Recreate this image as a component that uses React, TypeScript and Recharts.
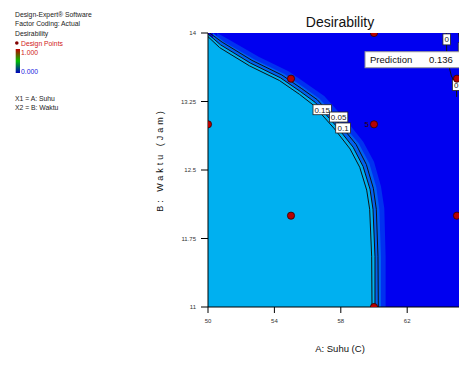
import React from 'react';
import { ComposedChart, XAxis, YAxis, Area, Line, Scatter, CartesianGrid } from 'recharts';

const FONT = "'Liberation Sans Narrow', 'Liberation Sans', Arial, sans-serif";

const xTicks = [50, 54, 58, 62];
const yTicks = [11, 11.75, 12.5, 13.25, 14];

// Contour lines
const contour010 = [
  { x: 50.0, y: 13.99 }, { x: 50.76, y: 13.87 }, { x: 52.56, y: 13.67 }, { x: 54.36, y: 13.51 },
  { x: 55.56, y: 13.36 }, { x: 56.46, y: 13.24 }, { x: 57.78, y: 12.97 }, { x: 58.74, y: 12.75 },
  { x: 59.34, y: 12.54 }, { x: 59.76, y: 12.29 }, { x: 59.94, y: 12.07 }, { x: 60.06, y: 11.55 },
  { x: 60.06, y: 11.0 },
];
const contour015 = [
  { x: 50.0, y: 13.96 }, { x: 50.7, y: 13.84 }, { x: 52.5, y: 13.64 }, { x: 54.3, y: 13.48 },
  { x: 55.5, y: 13.33 }, { x: 56.35, y: 13.21 }, { x: 57.62, y: 12.95 }, { x: 58.56, y: 12.73 },
  { x: 59.14, y: 12.53 }, { x: 59.56, y: 12.28 }, { x: 59.74, y: 12.07 }, { x: 59.86, y: 11.55 },
  { x: 59.88, y: 11.0 },
];
const contour005 = [
  { x: 50.1, y: 14.0 }, { x: 50.85, y: 13.9 }, { x: 52.65, y: 13.7 }, { x: 54.45, y: 13.54 },
  { x: 55.65, y: 13.39 }, { x: 56.58, y: 13.27 }, { x: 57.94, y: 13.0 }, { x: 58.92, y: 12.78 },
  { x: 59.54, y: 12.56 }, { x: 59.96, y: 12.3 }, { x: 60.14, y: 12.07 }, { x: 60.24, y: 11.55 },
  { x: 60.26, y: 11.0 },
];
// Shading bands (transition) beyond the contour
const bandInner = [
  { x: 50.3, y: 14.0 }, { x: 51.0, y: 13.9 }, { x: 52.8, y: 13.71 }, { x: 54.6, y: 13.55 },
  { x: 55.8, y: 13.4 }, { x: 56.72, y: 13.28 }, { x: 58.08, y: 13.01 }, { x: 59.08, y: 12.79 },
  { x: 59.72, y: 12.57 }, { x: 60.14, y: 12.31 }, { x: 60.32, y: 12.07 }, { x: 60.42, y: 11.55 },
  { x: 60.42, y: 11.0 },
];
const bandOuter = [
  { x: 50.55, y: 14.0 }, { x: 51.25, y: 13.93 }, { x: 53.05, y: 13.74 }, { x: 54.85, y: 13.58 },
  { x: 56.05, y: 13.43 }, { x: 57.0, y: 13.31 }, { x: 58.35, y: 13.04 }, { x: 59.35, y: 12.81 },
  { x: 60.0, y: 12.59 }, { x: 60.42, y: 12.32 }, { x: 60.62, y: 12.08 }, { x: 60.7, y: 11.55 },
  { x: 60.7, y: 11.0 },
];
const topRightLight = [
  { x: 65.3, r: [13.999, 14] }, { x: 65.6, r: [13.55, 14] }, { x: 70, r: [12.8, 14] },
];
const topRightLineA = [{ x: 65.1, y: 14 }, { x: 65.34, y: 13.6 }, { x: 65.58, y: 13.49 }];
const topRightLineB = [{ x: 65.28, y: 14 }, { x: 65.52, y: 13.62 }, { x: 65.76, y: 13.51 }];
const zeroLine = [
  { x: 64.36, y: 14 }, { x: 64.38, y: 13.79 }, { x: 64.54, y: 13.62 }, { x: 64.66, y: 13.53 },
  { x: 64.96, y: 13.43 }, { x: 64.98, y: 13.3 },
];

const designPoints = [
  { x: 50, y: 13, n: 1 }, { x: 55, y: 13.5, n: 1 }, { x: 55, y: 12, n: 1 },
  { x: 60, y: 14, n: 1 }, { x: 60, y: 13, n: 5 }, { x: 60, y: 11, n: 1 },
  { x: 65, y: 12, n: 1 }, { x: 65, y: 13.5, n: 1 }, { x: 70, y: 13, n: 1 },
];

const contourLabels = [
  { x: 56.88, y: 13.16, label: '0.15' },
  { x: 57.87, y: 13.08, label: '0.05' },
  { x: 58.14, y: 12.96, label: '0.1' },
  { x: 64.38, y: 13.93, label: '0' },
  { x: 64.95, y: 13.43, label: '0' },
  { x: 65.52, y: 13.84, label: '0.1' },
];

const prediction = [{ x: 59.46, y: 13.795, name: 'Prediction', value: '0.136' }];

const LIGHT = '#00B0F0';
const DARK = '#0000F0';

const PointShape = (props: any) => {
  const { cx, cy, payload } = props;
  if (cx == null || cy == null) return null;
  return (
    <g>
      <circle cx={cx} cy={cy} r={3.6} fill="#B80000" stroke="#300000" strokeWidth={0.8} />
      {payload.n > 1 && (
        <text x={cx - 5} y={cy + 3} textAnchor="end" fontSize={8} fontFamily={FONT} fill="#300000">
          {payload.n}
        </text>
      )}
    </g>
  );
};

const LabelShape = (props: any) => {
  const { cx, cy, payload } = props;
  if (cx == null || cy == null) return null;
  const w = payload.label.length * 3.6 + 4;
  const h = payload.label.length === 1 ? 11 : 10;
  return (
    <g>
      <rect x={cx - w / 2} y={cy - h / 2} width={w} height={h} fill="#fff" stroke="#222" strokeWidth={0.8} />
      <text x={cx} y={cy + 3} textAnchor="middle" fontSize={8} fontFamily={FONT} fill="#222">
        {payload.label}
      </text>
    </g>
  );
};

const PredictionShape = (props: any) => {
  const { cx, cy, payload } = props;
  if (cx == null || cy == null) return null;
  return (
    <g>
      <rect x={cx} y={cy} width={140} height={16} fill="#fff" stroke="#999" strokeWidth={1} />
      <text x={cx + 5} y={cy + 11.5} fontSize={9.5} fontFamily={FONT} fill="#111">{payload.name}</text>
      <text x={cx + 64} y={cy + 11.5} fontSize={9.5} fontFamily={FONT} fill="#111">{payload.value}</text>
    </g>
  );
};

export default function App() {
  const o = (v: number) => v - 8;
  return (
    <div style={{ position: 'relative', width: 459, height: 349, overflow: 'hidden', background: '#fff' }}>
      <ComposedChart width={600} height={349} margin={{ top: 25, right: 68, bottom: 20, left: 140 }}>
        <CartesianGrid fill={DARK} horizontal={false} vertical={false} stroke="none" />
        <XAxis
          type="number"
          dataKey="x"
          domain={[50, 70]}
          ticks={xTicks}
          height={30}
          tickSize={6}
          tickMargin={6}
          axisLine={{ stroke: '#000' }}
          tickLine={{ stroke: '#000' }}
          tick={{ fontSize: 6, fill: '#333', fontFamily: FONT }}
          allowDataOverflow
        />
        <XAxis
          xAxisId="top"
          orientation="top"
          type="number"
          dataKey="x"
          domain={[50, 70]}
          height={0}
          tick={false}
          tickLine={false}
          axisLine={{ stroke: '#000' }}
          allowDataOverflow
        />
        <YAxis
          type="number"
          dataKey="y"
          domain={[11, 14]}
          ticks={yTicks}
          width={60}
          tickSize={7}
          tickMargin={5}
          axisLine={{ stroke: '#000' }}
          tickLine={{ stroke: '#000' }}
          tick={{ fontSize: 6, fill: '#333', fontFamily: FONT }}
          allowDataOverflow
        />
        <Area data={bandOuter} dataKey="y" type="linear" fill="#0030F0" fillOpacity={1} stroke="none" isAnimationActive={false} />
        <Area data={bandInner} dataKey="y" type="linear" fill="#0062F0" fillOpacity={1} stroke="none" isAnimationActive={false} />
        <Area data={contour010} dataKey="y" type="linear" fill={LIGHT} fillOpacity={1} stroke="none" isAnimationActive={false} />
        <Area data={topRightLight} dataKey="r" type="linear" fill={LIGHT} fillOpacity={1} stroke="none" isAnimationActive={false} />
        <Line data={contour015} dataKey="y" type="linear" stroke="#111" strokeWidth={1} dot={false} isAnimationActive={false} />
        <Line data={contour010} dataKey="y" type="linear" stroke="#111" strokeWidth={1} dot={false} isAnimationActive={false} />
        <Line data={contour005} dataKey="y" type="linear" stroke="#111" strokeWidth={1} dot={false} isAnimationActive={false} />
        <Line data={topRightLineA} dataKey="y" type="linear" stroke="#111" strokeWidth={1} dot={false} isAnimationActive={false} />
        <Line data={topRightLineB} dataKey="y" type="linear" stroke="#111" strokeWidth={1} dot={false} isAnimationActive={false} />
        <Line data={zeroLine} dataKey="y" type="linear" stroke="#111" strokeWidth={1} dot={false} isAnimationActive={false} />
        <Scatter data={contourLabels} dataKey="y" shape={LabelShape} isAnimationActive={false} />
        <Scatter data={designPoints} dataKey="y" shape={PointShape} isAnimationActive={false} />
        <Scatter data={prediction} dataKey="y" shape={PredictionShape} isAnimationActive={false} />
      </ComposedChart>
      <svg
        width={459}
        height={349}
        style={{ position: 'absolute', left: 0, top: 0, pointerEvents: 'none' }}
        fontFamily={FONT}
      >
        <text x={o(340)} y={o(27)} textAnchor="middle" fontSize={14} fill="#111">Desirability</text>
        <text x={o(340)} y={o(352)} textAnchor="middle" fontSize={9.5} fill="#111">A: Suhu (C)</text>
        <text
          x={0}
          y={0}
          transform={`translate(${o(160)}, ${o(160)}) rotate(-90)`}
          textAnchor="middle"
          dominantBaseline="central"
          fontSize={9}
          letterSpacing={3}
          fill="#111"
        >
          B: Waktu (Jam)
        </text>
        <defs>
          <linearGradient id="cbar" x1="0" y1="0" x2="0" y2="1">
            <stop offset="0%" stopColor="#C00000" />
            <stop offset="50%" stopColor="#00C000" />
            <stop offset="100%" stopColor="#0000C0" />
          </linearGradient>
        </defs>
        <g fontSize={6.8} fill="#222">
          <text x={o(15)} y={o(17)}>Design-Expert® Software</text>
          <text x={o(15)} y={o(26)}>Factor Coding: Actual</text>
          <text x={o(15)} y={o(35.5)}>Desirability</text>
          <circle cx={o(16.8)} cy={o(43)} r={1.8} fill="#800000" />
          <text x={o(21)} y={o(45.5)} fill="#D02020">Design Points</text>
          <rect x={o(15.7)} y={o(49)} width={4.3} height={24} fill="url(#cbar)" />
          <text x={o(21)} y={o(54.5)} fill="#D02020">1.000</text>
          <text x={o(21)} y={o(74)} fill="#2020E0">0.000</text>
          <text x={o(15)} y={o(100.5)}>X1 = A: Suhu</text>
          <text x={o(15)} y={o(110)}>X2 = B: Waktu</text>
        </g>
      </svg>
    </div>
  );
}
